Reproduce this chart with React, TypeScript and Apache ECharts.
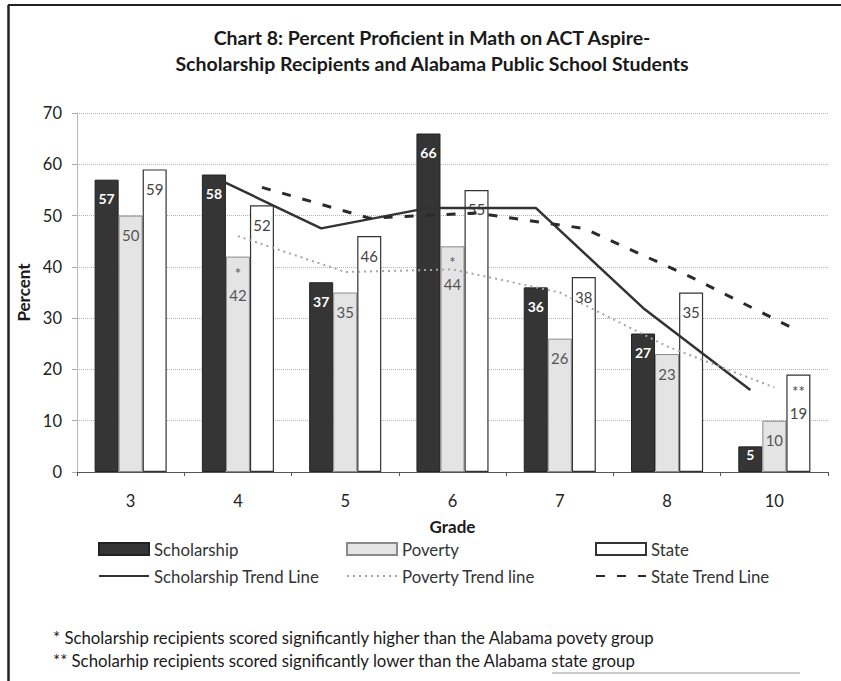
import React, { useEffect, useRef } from 'react';
import * as echarts from 'echarts';

const grades = ['3', '4', '5', '6', '7', '8', '10'];
const scholarship = [57, 58, 37, 66, 36, 27, 5];
const poverty = [50, 42, 35, 44, 26, 23, 10];
const state = [59, 52, 46, 55, 38, 35, 19];
const scholarshipTrend = [null, 57.5, 47.5, 51.5, 51.5, 32, 16];
const povertyTrend = [null, 46, 39, 39.5, 35, 24.5, 16.5];
const stateTrend = [null, 55.5, 49.5, 50.5, 47.5, 38, 27.5];
const povertyMarks = ['', '*', '', '*', '', '', ''];
const stateMarks = ['', '', '', '', '', '', '**'];
const footnotes = [
  '* Scholarship recipients scored significantly higher than the Alabama povety group',
  '** Scholarhip recipients scored significantly lower than the Alabama state group',
];
const titleText = 'Chart 8: Percent Proficient in Math on ACT Aspire-\nScholarship Recipients and Alabama Public School Students';

const FONT = 'Lato, "Open Sans", sans-serif';
const BAR_FRAC = 0.224;

function trendPoints(vals: (number | null)[], offset: number) {
  const out: number[][] = [];
  vals.forEach((v, i) => {
    if (v !== null) out.push([i + offset, v]);
  });
  return out;
}

function markedData(vals: number[], marks: string[]) {
  return vals.map((v, i) =>
    marks[i] ? { value: v, label: { distance: 5, lineHeight: 22 } } : v
  );
}

const legendBase = {
  top: 540,
  orient: 'vertical',
  padding: 0,
  itemWidth: 50,
  itemHeight: 12,
  itemGap: 9,
  textStyle: { fontSize: 16.8, color: '#333', fontFamily: FONT, lineHeight: 18 },
};

export default function App() {
  const ref = useRef<HTMLDivElement>(null);
  useEffect(() => {
    if (!ref.current) return;
    const chart = echarts.init(ref.current, null, { renderer: 'svg' });
    const labelBase = { show: true, position: 'insideTop', distance: 12, fontSize: 15, fontFamily: FONT };
    const lineItem = (name: string) => ({ name, itemStyle: { opacity: 0 } });
    const barItem = (name: string) => ({ name, icon: 'rect' });
    chart.setOption({
      animation: false,
      backgroundColor: '#fff',
      textStyle: { fontFamily: FONT },
      title: {
        text: titleText,
        left: 427,
        top: 19,
        textAlign: 'center',
        textStyle: { fontSize: 19.5, fontWeight: 'bold', lineHeight: 26, color: '#1a1a1a', fontFamily: FONT },
      },
      grid: { left: 77, right: 13, top: 113, bottom: 209 },
      xAxis: [
        {
          type: 'category',
          data: grades,
          name: 'Grade',
          nameLocation: 'middle',
          nameGap: 46,
          nameTextStyle: { fontSize: 17, fontWeight: 'bold', color: '#1a1a1a', fontFamily: FONT },
          axisLine: { lineStyle: { color: '#555', width: 1 } },
          axisTick: { show: true, length: 4, lineStyle: { color: '#555' } },
          axisLabel: { fontSize: 16.5, color: '#222', margin: 20, fontFamily: FONT },
        },
        { type: 'value', min: -0.5, max: 6.5, show: false },
      ],
      yAxis: {
        type: 'value',
        min: 0,
        max: 70,
        interval: 10,
        name: 'Percent',
        nameLocation: 'middle',
        nameGap: 44,
        nameTextStyle: { fontSize: 17, fontWeight: 'bold', color: '#1a1a1a', fontFamily: FONT },
        axisLine: { show: true, onZero: false, lineStyle: { color: '#aaa', type: 'dotted' } },
        axisLabel: { fontSize: 16.5, color: '#222', margin: 15, fontFamily: FONT },
        splitLine: { lineStyle: { color: '#b5b5b5', type: 'dotted' } },
      },
      legend: [
        { ...legendBase, left: 98, data: [barItem('Scholarship'), lineItem('Scholarship Trend Line')] },
        { ...legendBase, left: 346, data: [barItem('Poverty'), lineItem('Poverty Trend line')] },
        { ...legendBase, left: 595, data: [barItem('State'), lineItem('State Trend Line')] },
      ],
      series: [
        {
          name: 'Scholarship',
          type: 'bar',
          barWidth: `${BAR_FRAC * 100}%`,
          barGap: '0%',
          data: scholarship.map((v) => (v < 10 ? { value: v, label: { distance: 1 } } : v)),
          itemStyle: { color: '#353535', borderColor: '#222', borderWidth: 1 },
          label: { ...labelBase, color: '#fff', fontWeight: 'bold', fontSize: 14 },
        },
        {
          name: 'Poverty',
          type: 'bar',
          barWidth: `${BAR_FRAC * 100}%`,
          barGap: '0%',
          data: markedData(poverty, povertyMarks),
          itemStyle: { color: '#e4e4e4', borderColor: '#8a8a8a', borderWidth: 1 },
          label: {
            ...labelBase,
            color: '#555',
            formatter: (p: any) => (povertyMarks[p.dataIndex] ? povertyMarks[p.dataIndex] + '\n' + p.value : String(p.value)),
          },
        },
        {
          name: 'State',
          type: 'bar',
          barWidth: `${BAR_FRAC * 100}%`,
          barGap: '0%',
          data: markedData(state, stateMarks),
          itemStyle: { color: '#fff', borderColor: '#333', borderWidth: 1.2 },
          label: {
            ...labelBase,
            color: '#444',
            formatter: (p: any) => (stateMarks[p.dataIndex] ? stateMarks[p.dataIndex] + '\n' + p.value : String(p.value)),
          },
        },
        {
          name: 'Scholarship Trend Line',
          type: 'line',
          xAxisIndex: 1,
          symbol: 'none',
          data: trendPoints(scholarshipTrend, -BAR_FRAC),
          lineStyle: { color: '#333', width: 2.5 },
          itemStyle: { color: '#333' },
          z: 5,
        },
        {
          name: 'Poverty Trend line',
          type: 'line',
          xAxisIndex: 1,
          symbol: 'none',
          data: trendPoints(povertyTrend, 0),
          lineStyle: { color: '#a5a5a5', width: 2, type: [2, 4] },
          itemStyle: { color: '#a5a5a5' },
          z: 5,
        },
        {
          name: 'State Trend Line',
          type: 'line',
          xAxisIndex: 1,
          symbol: 'none',
          data: trendPoints(stateTrend, BAR_FRAC),
          lineStyle: { color: '#2a2a2a', width: 3, type: [9, 12] },
          itemStyle: { color: '#2a2a2a' },
          z: 5,
        },
      ],
      graphic: [
        { type: 'line', shape: { x1: 8.5, y1: 5, x2: 8.5, y2: 681 }, style: { stroke: '#222', lineWidth: 2.5 } },
        { type: 'line', shape: { x1: 8, y1: 5, x2: 841, y2: 5 }, style: { stroke: '#222', lineWidth: 2 } },
        { type: 'line', shape: { x1: 552, y1: 673, x2: 800, y2: 673 }, style: { stroke: '#bbb', lineWidth: 1.5 } },
        {
          type: 'text', x: 53, y: 637,
          style: { text: footnotes[0], fontSize: 16.8, fill: '#1a1a1a', fontFamily: FONT, verticalAlign: 'middle' },
        },
        {
          type: 'text', x: 53, y: 660,
          style: { text: footnotes[1], fontSize: 16.8, fill: '#1a1a1a', fontFamily: FONT, verticalAlign: 'middle' },
        },
      ],
    });
    return () => chart.dispose();
  }, []);
  return <div ref={ref} style={{ position: 'fixed', left: 0, top: 0, width: 841, height: 681 }} />;
}
